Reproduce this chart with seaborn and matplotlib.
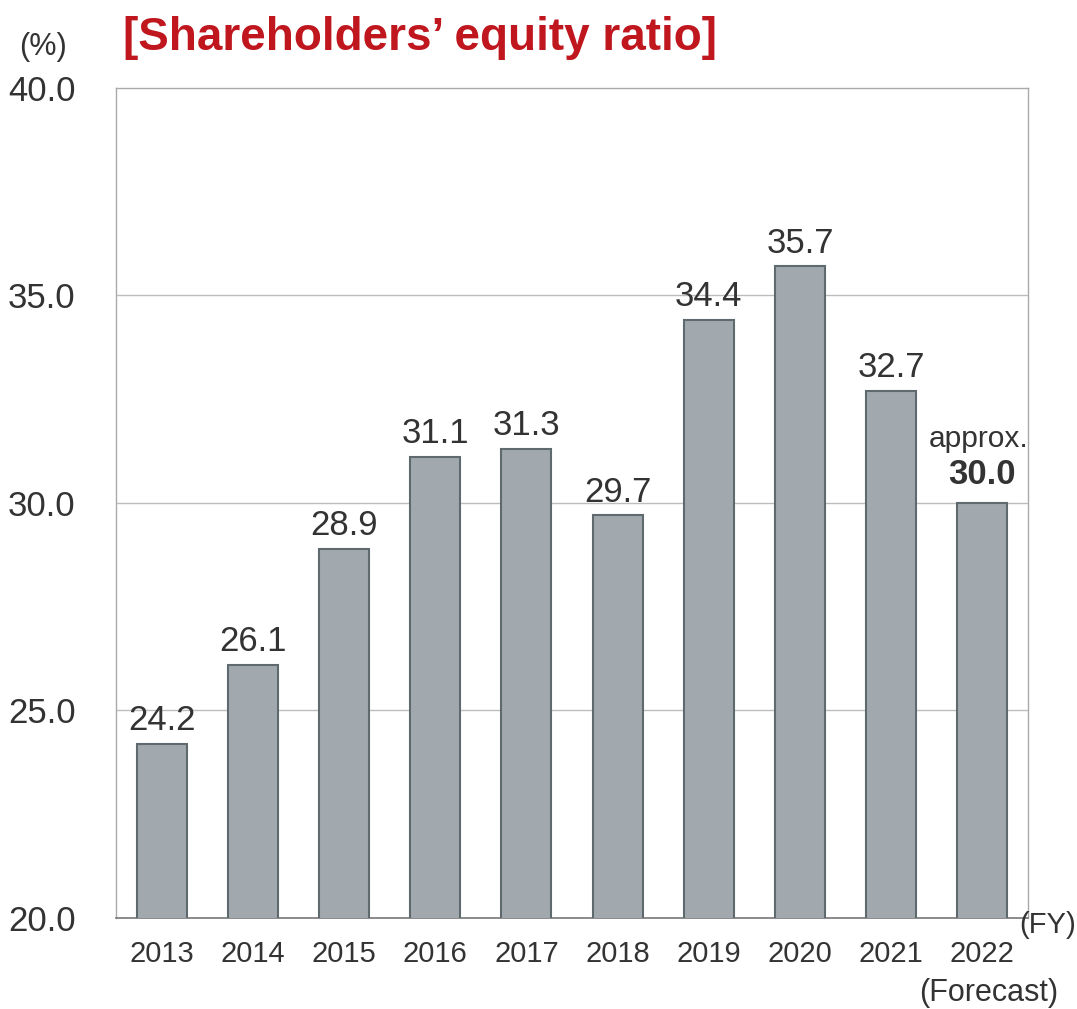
import seaborn as sns
import pandas as pd
import matplotlib.pyplot as plt

# Shareholders' equity ratio data (%)
years = ['2013', '2014', '2015', '2016', '2017', '2018', '2019', '2020', '2021', '2022']
ratios = [24.2, 26.1, 28.9, 31.1, 31.3, 29.7, 34.4, 35.7, 32.7, 30.0]
y_ticks = [20.0, 25.0, 30.0, 35.0, 40.0]

df = pd.DataFrame({'year': years, 'ratio': ratios})

sns.set_theme(style='white')
plt.rcParams['font.family'] = ['Liberation Sans', 'DejaVu Sans']

text_col = '#333333'
fig = plt.figure(figsize=(10.77, 10.09), dpi=100)
ax = fig.add_axes([0.1077, 0.0902, 0.8468, 0.8226])

sns.barplot(data=df, x='year', y='ratio', color='#A1A9AF', saturation=1,
            width=0.55, edgecolor='#5E6A6E', linewidth=1.5, ax=ax, zorder=3)

ax.set_ylim(20, 40)
ax.set_xlim(-0.5, len(years) - 0.5)
ax.set_yticks(y_ticks)
ax.set_yticklabels([f'{v:.1f}' for v in y_ticks], fontsize=25, color=text_col)
ax.set_xticklabels(years, fontsize=21, color=text_col)
ax.tick_params(axis='y', length=0, pad=29)
ax.tick_params(axis='x', length=0, pad=16)
ax.set_xlabel('')
ax.set_ylabel('')

for v in y_ticks[1:-1]:
    ax.axhline(v, color='#BDBDBD', linewidth=1, zorder=1)

for side in ['top', 'right', 'left']:
    ax.spines[side].set_color('#AAAAAA')
    ax.spines[side].set_linewidth(1)
ax.spines['bottom'].set_color('#777777')
ax.spines['bottom'].set_linewidth(1.2)

# data labels
for i, v in enumerate(ratios[:-1]):
    ax.annotate(f'{v:.1f}', (i, v), xytext=(0, 10), textcoords='offset points',
                ha='center', va='baseline', fontsize=25, color=text_col)
last = len(ratios) - 1
ax.annotate(f'{ratios[last]:.1f}', (last, ratios[last]), xytext=(0, 14),
            textcoords='offset points', ha='center', va='baseline',
            fontsize=25, fontweight='bold', color=text_col)
ax.annotate('approx.', (last, ratios[last]), xytext=(-3, 40),
            textcoords='offset points', ha='center', va='baseline',
            fontsize=21.5, color=text_col)

fig.text(0.114, 0.962, '[Shareholders’ equity ratio]', fontsize=33,
         fontweight='bold', color='#C0161E', ha='left', va='center')
fig.text(0.040, 0.953, '(%)', fontsize=22, color=text_col, ha='center', va='center')
fig.text(0.946, 0.083, '(FY)', fontsize=21, color=text_col, ha='left', va='center')
fig.text(0.918, 0.016, '(Forecast)', fontsize=22, color=text_col, ha='center', va='center')

fig.savefig('out.png', dpi=100, facecolor='white')
